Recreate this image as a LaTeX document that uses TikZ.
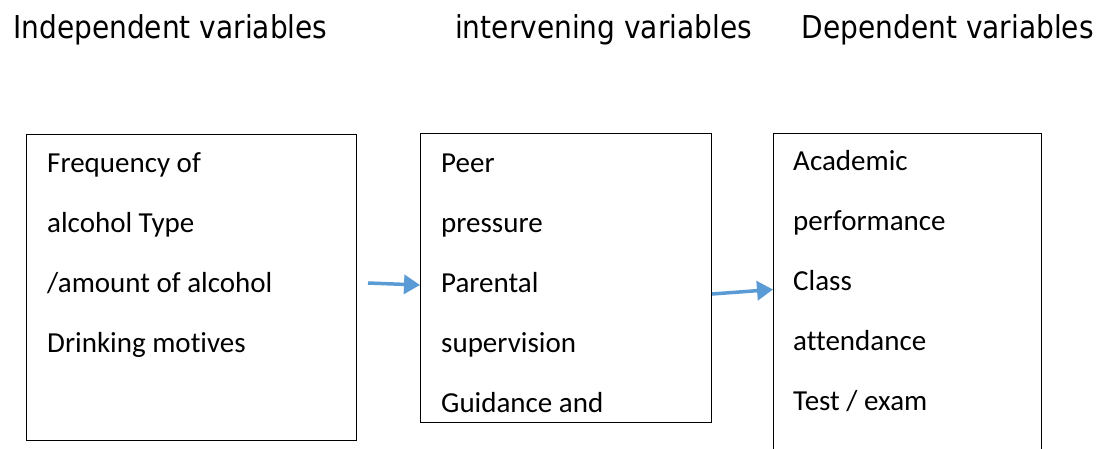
\documentclass[tikz,border=0pt]{standalone}
\usepackage{fontspec}
\setmainfont[Ligatures={NoCommon}]{Carlito}
\newfontfamily\titolofont[FakeStretch=0.89]{DejaVu Sans}
\usetikzlibrary{positioning}
\usetikzlibrary{arrows.meta}
\definecolor{bluFreccia}{HTML}{5B9BD5}

\begin{document}
\begin{tikzpicture}[x=1pt,y=-1pt,
titolo/.style={font=\titolofont\fontsize{31.5}{36}\selectfont,inner sep=0pt},
cassa/.style={draw,line width=1pt,anchor=north west,inner sep=0pt},
testo/.style={font=\fontsize{29}{60}\selectfont,align=left,anchor=north west,inner sep=0pt},
freccia/.style={draw=bluFreccia,line width=3.5pt,-{Triangle[length=16pt,width=19pt]}}
]
\useasboundingbox (0,0) rectangle (1100,448);
%--
\node[titolo,anchor=base west] (tIndip) at (13,38) {Independent variables};
\node[titolo,anchor=base west] (tInterv) at (455,38) {intervening variables};
\node[titolo,anchor=base east] (tDip) at (1094,38) {Dependent variables};
%--
\node[cassa,minimum width=330pt,minimum height=306pt] (indip) at (26,134) {};
\node[testo] (indipT) at ([shift={(21,-4)}]indip.north west)
  {\strut Frequency of\\alcohol Type\\/amount of alcohol\\Drinking motives};
%--
\node[cassa,minimum width=291pt,minimum height=289pt] (interv) at (420,133) {};
\node[testo] (intervT) at ([shift={(21,-3)}]interv.north west)
  {\strut Peer\\pressure\\Parental\\supervision\\Guidance and};
%--
\node[cassa,minimum width=268pt,minimum height=322pt] (dip) at (773,133) {};
\node[testo] (dipT) at ([shift={(20,-5)}]dip.north west)
  {\strut Academic\\performance\\Class\\attendance\\Test / exam};
%--
\coordinate (avvio) at (368,283);
\draw[freccia] (avvio) -- ([yshift=-7pt]interv.west);
\draw[freccia] ([yshift=-16pt]interv.east) -- ([yshift=5pt]dip.west);
\end{tikzpicture}
\end{document}
